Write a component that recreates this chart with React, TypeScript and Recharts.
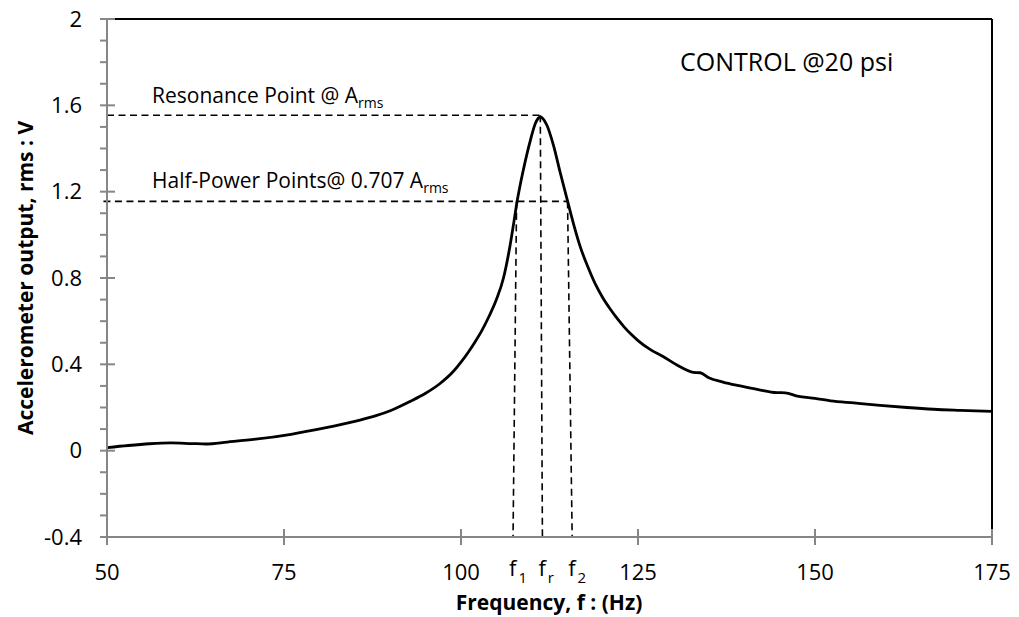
import React from 'react';
import { LineChart, Line, XAxis, YAxis, ReferenceLine } from 'recharts';

// accelerometer response, control specimen @ 20 psi
const FREQ = [
  50, 53, 56, 59, 62, 64, 67, 71, 76, 80.6, 85.3, 88, 90, 92.8, 95, 97, 99, 100, 101, 102, 103, 104, 105, 106,
  106.9, 107.4, 107.9, 108.8, 109.8, 110.5, 111.2, 112.1, 113.1, 114, 115.1, 115.9, 116.85, 118, 119, 120, 121,
  122, 123, 124, 125, 126.7, 128.6, 130.5, 132.85, 133.8, 135, 137, 139.45, 142, 144.6, 145.8, 147.5, 150, 152.2,
  155.5, 159.2, 163, 166.75, 170.5, 175,
];
const OUTPUT = [
  0.014, 0.024, 0.032, 0.036, 0.033, 0.031, 0.04, 0.053, 0.076, 0.104, 0.138, 0.162, 0.185, 0.228, 0.266, 0.31,
  0.37, 0.41, 0.455, 0.505, 0.56, 0.625, 0.7, 0.8, 0.945, 1.045, 1.15, 1.3, 1.438, 1.516, 1.546, 1.51, 1.41,
  1.29, 1.15, 1.05, 0.944, 0.845, 0.77, 0.71, 0.66, 0.615, 0.575, 0.54, 0.51, 0.469, 0.435, 0.397, 0.363,
  0.361, 0.338, 0.318, 0.3, 0.283, 0.269, 0.268, 0.253, 0.242, 0.231, 0.221, 0.21, 0.2, 0.192, 0.187, 0.182,
];

const X_TICKS = [50, 75, 100, 125, 150, 175];
const Y_TICKS = [
  -0.4, -0.3, -0.2, -0.1, 0, 0.1, 0.2, 0.3, 0.4, 0.5, 0.6, 0.7, 0.8, 0.9, 1, 1.1, 1.2, 1.3, 1.4, 1.5, 1.6, 1.7,
  1.8, 1.9, 2,
];
const Y_LABELED = [-0.4, 0, 0.4, 0.8, 1.2, 1.6, 2];

// resonance amplitude and half-power level
const A_RMS = 1.554;
const HALF_POWER = 1.155;

// f1, fr, f2 guide lines: frequency where they leave the curve level, and where they hit the axis
const MARKERS = [
  { sub: '1', top: 107.85, bottom: 107.35, level: HALF_POWER },
  { sub: 'r', top: 111.2, bottom: 111.5, level: A_RMS },
  { sub: '2', top: 115.05, bottom: 115.7, level: HALF_POWER },
];

const data = FREQ.map((f, i) => ({ f, v: OUTPUT[i] }));

const AXIS = '#868686';
const FONT = '"Open Sans", sans-serif';
const DASH = '7 4.5';

const XTick = (props: any) => {
  const { x, y, payload } = props;
  const mark = MARKERS.find((m) => m.bottom === payload.value);
  if (mark) {
    return (
      <text x={x - 4} y={y + 39} fontSize={22} fontFamily={FONT} fill="#000">
        f
        <tspan fontSize={15} dx={2} dy={7}>
          {mark.sub}
        </tspan>
      </text>
    );
  }
  return (
    <g>
      <line x1={x} x2={x} y1={y - 8} y2={y + 8} stroke={AXIS} strokeWidth={2} />
      <text x={x} y={y + 43} textAnchor="middle" fontSize={22} fontFamily={FONT} fill="#000">
        {payload.value}
      </text>
    </g>
  );
};

const YTick = (props: any) => {
  const { x, y, payload } = props;
  const major = Y_LABELED.includes(payload.value);
  return (
    <g>
      <line x1={x - 7} x2={major ? x + 8 : x} y1={y} y2={y} stroke={AXIS} strokeWidth={2} />
      {major && (
        <text x={x - 25} y={y} dy="0.35em" textAnchor="end" fontSize={22} fontFamily={FONT} fill="#000">
          {payload.value}
        </text>
      )}
    </g>
  );
};

export default function App() {
  return (
    <div style={{ position: 'absolute', left: 0, top: 0, background: '#fff' }}>
      <LineChart width={1019} height={617} data={data} margin={{ top: 19, right: 27, bottom: 30, left: 27 }}>
        <XAxis
          dataKey="f"
          type="number"
          domain={[50, 175]}
          ticks={[...X_TICKS, ...MARKERS.map((m) => m.bottom)]}
          interval={0}
          height={50}
          tickSize={0}
          tickMargin={0}
          tickLine={false}
          axisLine={{ stroke: AXIS, strokeWidth: 2 }}
          tick={<XTick />}
        />
        <YAxis
          type="number"
          domain={[-0.4, 2]}
          ticks={Y_TICKS}
          interval={0}
          width={80}
          tickSize={0}
          tickMargin={0}
          tickLine={false}
          axisLine={{ stroke: AXIS, strokeWidth: 2 }}
          tick={<YTick />}
        />
        {/* plot frame, top and right */}
        <ReferenceLine y={2} stroke="#000" strokeWidth={2} />
        <ReferenceLine x={175} stroke="#000" strokeWidth={2} />

        {/* resonance and half-power guides */}
        <ReferenceLine
          segment={[{ x: 50, y: A_RMS }, { x: MARKERS[1].top, y: A_RMS }]}
          stroke="#000"
          strokeWidth={1.6}
          strokeDasharray={DASH}
        />
        <ReferenceLine
          segment={[{ x: 49.5, y: HALF_POWER }, { x: MARKERS[2].top, y: HALF_POWER }]}
          stroke="#000"
          strokeWidth={1.6}
          strokeDasharray={DASH}
          ifOverflow="visible"
        />
        {MARKERS.map((m) => (
          <ReferenceLine
            key={m.sub}
            segment={[{ x: m.top, y: m.level }, { x: m.bottom, y: -0.4 }]}
            stroke="#000"
            strokeWidth={1.6}
            strokeDasharray={DASH}
          />
        ))}

        <Line
          dataKey="v"
          type="monotone"
          stroke="#000"
          strokeWidth={2.8}
          dot={false}
          isAnimationActive={false}
        />

        <g fontFamily={FONT} fill="#000">
          <text x={152} y={103} fontSize={21}>
            Resonance Point @ A
            <tspan fontSize={14} dy={5}>
              rms
            </tspan>
          </text>
          <text x={152} y={188} fontSize={21}>
            Half-Power Points@ 0.707 A
            <tspan fontSize={14} dy={5}>
              rms
            </tspan>
          </text>
          <text x={680} y={71} fontSize={25}>
            CONTROL @20 psi
          </text>
          <text
            x={25}
            y={278}
            transform="rotate(-90, 25, 278)"
            textAnchor="middle"
            dominantBaseline="central"
            fontSize={21}
            fontWeight="bold"
          >
            Accelerometer output, rms : V
          </text>
          <text x={549} y={610} textAnchor="middle" fontSize={21} fontWeight="bold">
            Frequency, f : (Hz)
          </text>
        </g>
      </LineChart>
    </div>
  );
}
